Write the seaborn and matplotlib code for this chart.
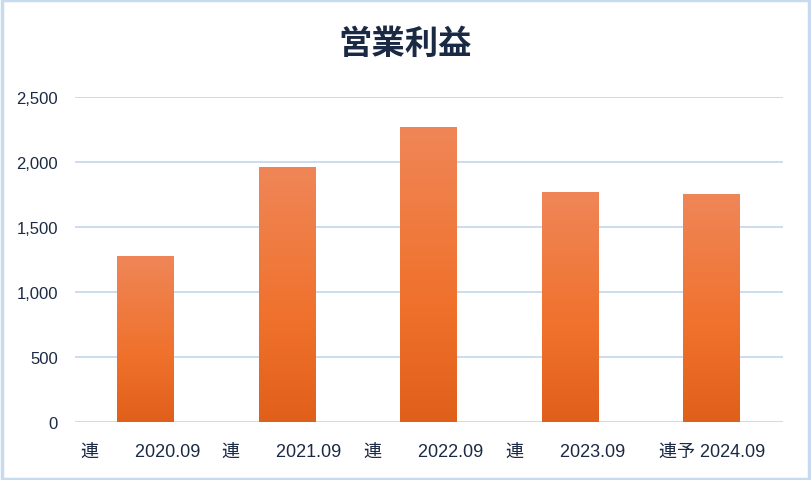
import numpy as np
import pandas as pd
import matplotlib
matplotlib.use("Agg")
import matplotlib.pyplot as plt
import seaborn as sns
from matplotlib.colors import LinearSegmentedColormap
from matplotlib.patches import Rectangle

# data
labels = ["連　　2020.09  ", "連　　2021.09  ", "連　　2022.09  ", "連　　2023.09  ", "連予 2024.09"]
values = [1280, 1965, 2270, 1770, 1755]
title = "営業利益"

df = pd.DataFrame({"period": labels, "value": values})

sns.set_theme(style="white")
plt.rcParams["font.family"] = ["Liberation Sans", "Noto Sans CJK JP", "DejaVu Sans"]

fig = plt.figure(figsize=(8.11, 4.81), dpi=100)
ax = fig.add_axes([0.092, 0.12, 0.873, 0.676])

sns.barplot(data=df, x="period", y="value", color="#F0712B", width=0.4, ax=ax)

# vertical gradient inside each bar
cmap = LinearSegmentedColormap.from_list(
    "bar", [(0.0, "#E0601B"), (0.4, "#F0712B"), (1.0, "#EF8658")])
grad = np.linspace(0, 1, 256).reshape(-1, 1)
for p in ax.patches:
    x0, y0 = p.get_x(), p.get_y()
    w, h = p.get_width(), p.get_height()
    im = ax.imshow(grad, cmap=cmap, origin="lower", aspect="auto",
                   extent=[x0, x0 + w, y0, y0 + h], zorder=2)
    im.set_clip_path(p)
    p.set_facecolor("none")
    p.set_edgecolor("none")

ax.set_xlim(-0.5, 4.5)
ax.set_ylim(0, 2500)
ticks = [0, 500, 1000, 1500, 2000, 2500]
ax.set_yticks(ticks)
ax.set_yticklabels([f"{v:,}" for v in ticks])
ax.yaxis.grid(True, color="#C9D9EE", linewidth=1.3)
ax.set_axisbelow(True)
for s in ax.spines.values():
    s.set_visible(False)
ax.tick_params(axis="y", length=0, pad=12, labelsize=12, colors="#1B2A44")
ax.tick_params(axis="x", length=0, pad=15, labelsize=13, colors="#1B2A44")
ax.set_xlabel("")
ax.set_ylabel("")

fig.text(0.5, 0.908, title, ha="center", va="center", fontsize=24,
         fontweight="bold", color="#1B2A44", family=["Noto Sans CJK JP", "DejaVu Sans"])

# light blue frame around the figure
fig.patches.append(Rectangle((0.002, 0.003), 0.996, 0.994, transform=fig.transFigure,
                             fill=False, edgecolor="#C6DAF0", linewidth=2.5))

fig.savefig("out.png", dpi=100)
